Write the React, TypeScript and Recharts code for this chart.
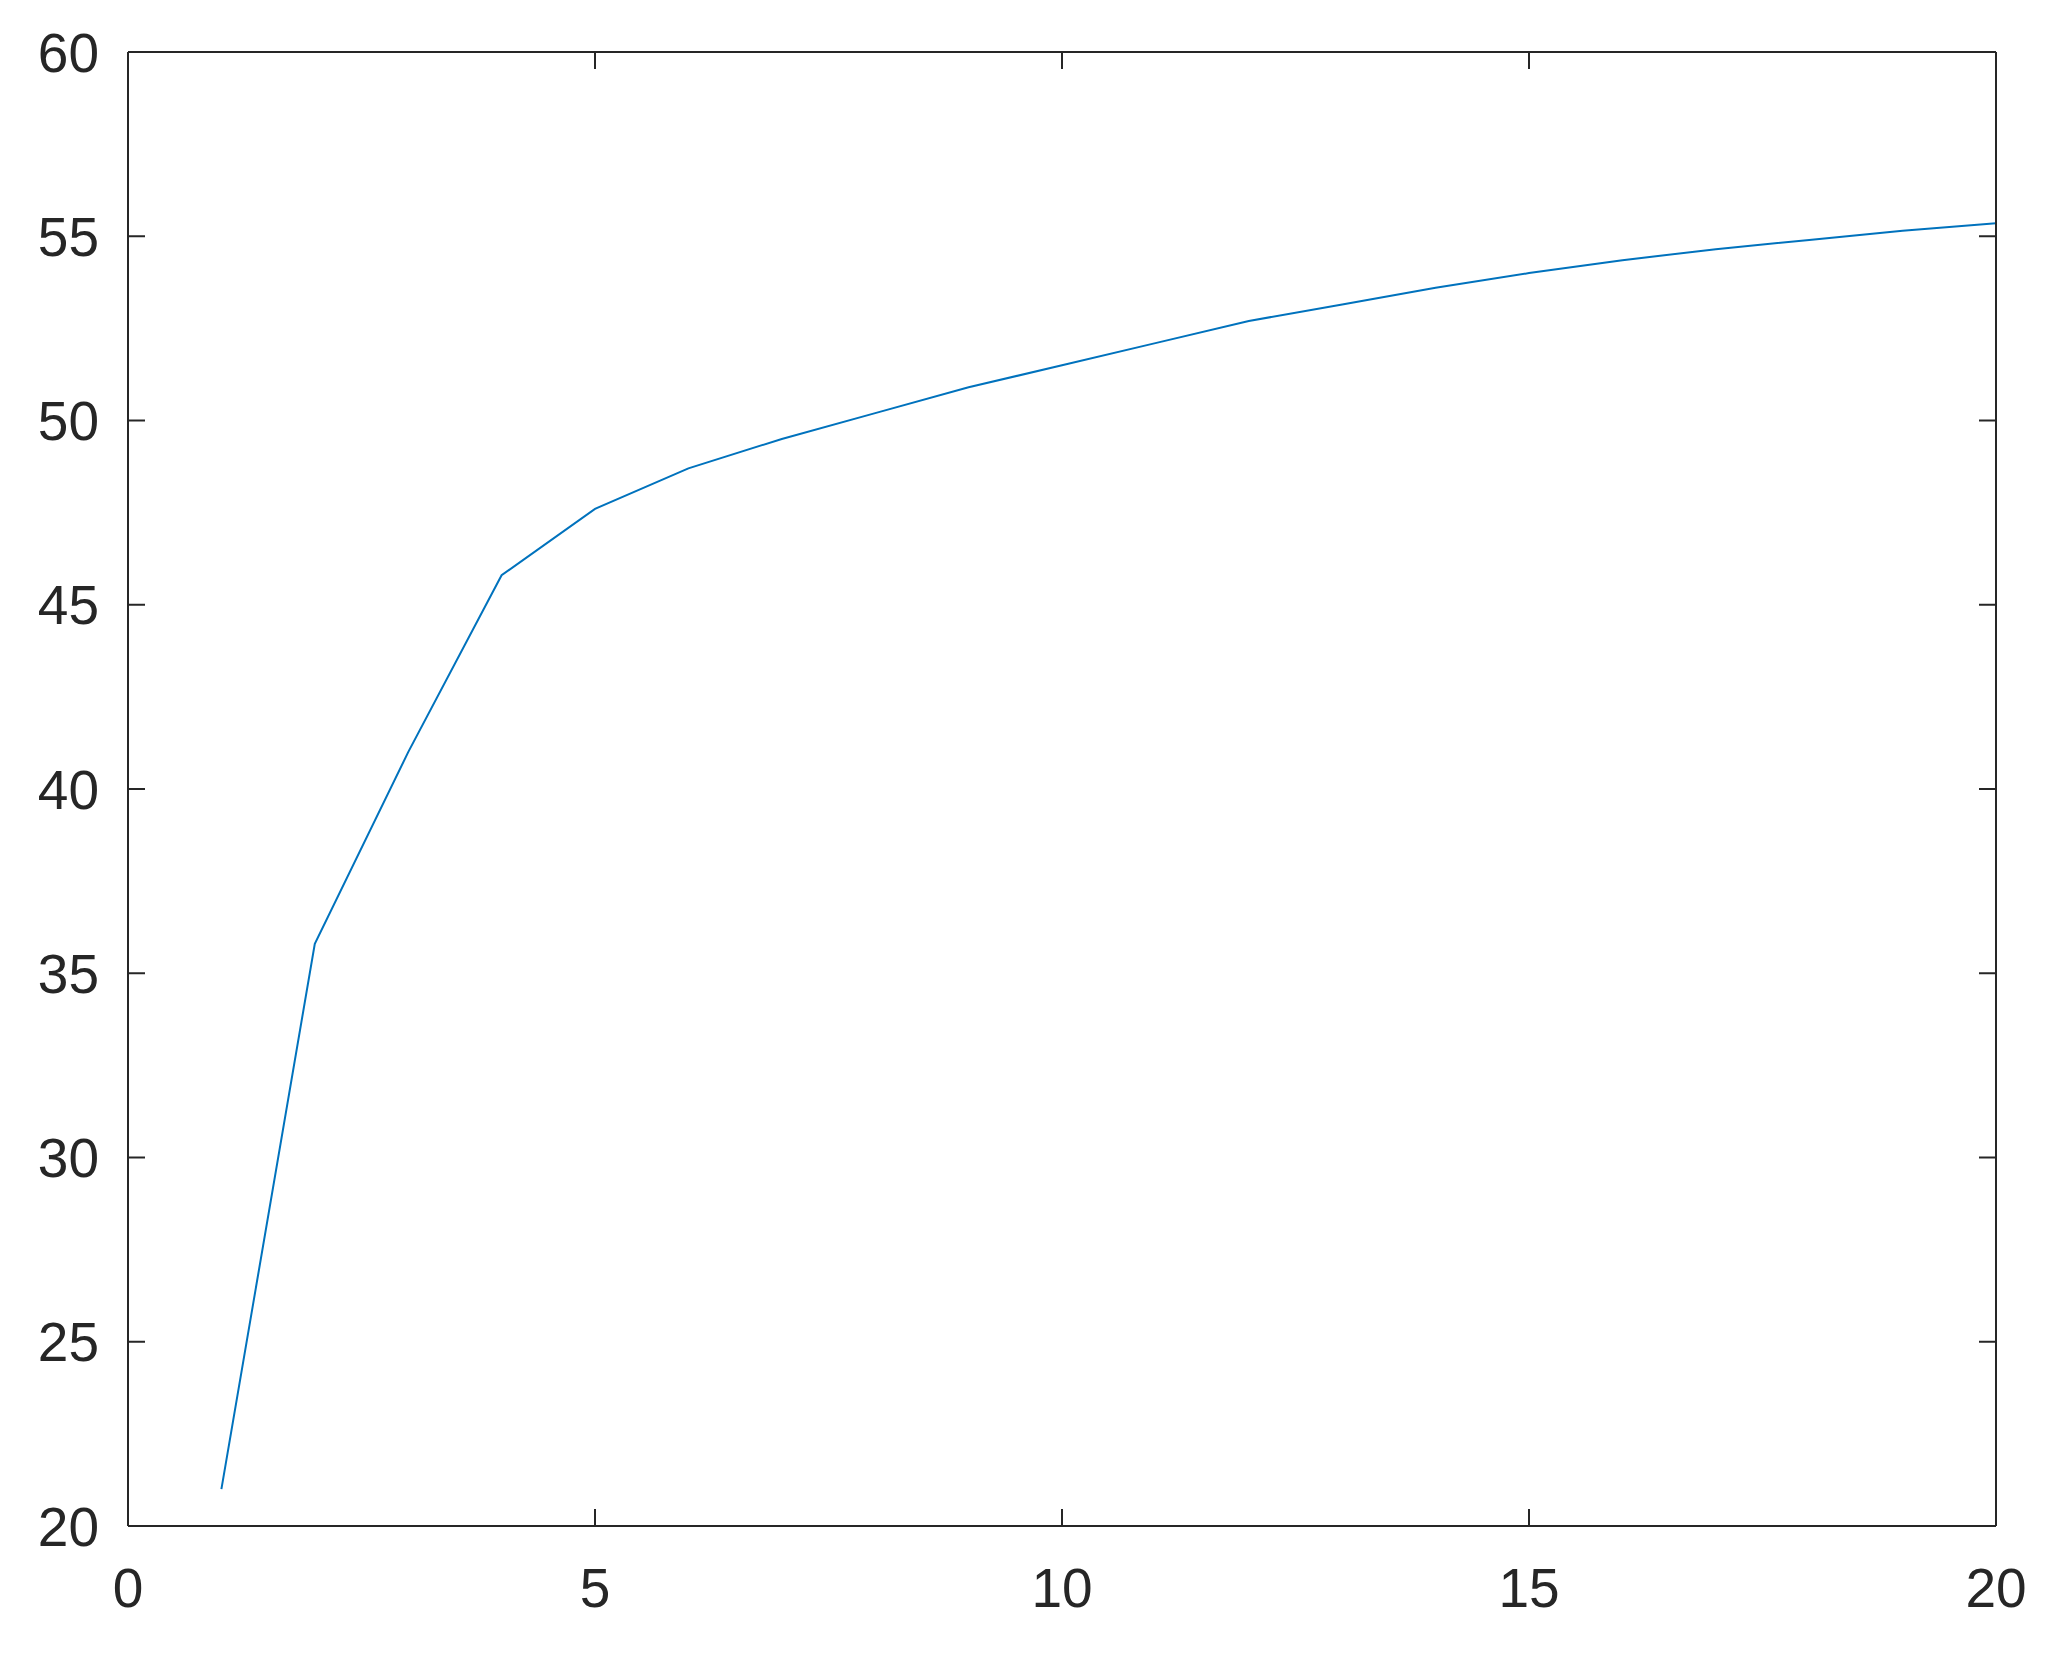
import React from 'react';
import { LineChart, Line, XAxis, YAxis } from 'recharts';

// values
const xValues = [1, 2, 3, 4, 5, 6, 7, 8, 9, 10, 11, 12, 13, 14, 15, 16, 17, 18, 19, 20];
const yValues = [21.0, 35.8, 41.0, 45.8, 47.6, 48.7, 49.5, 50.2, 50.9, 51.5, 52.1, 52.7, 53.15, 53.6, 54.0, 54.35, 54.65, 54.9, 55.15, 55.35];
const xTicks = [0, 5, 10, 15, 20];
const yTicks = [20, 25, 30, 35, 40, 45, 50, 55, 60];

const data = xValues.map((x, i) => ({ x, y: yValues[i] }));

const axisColor = '#262626';
const tickFont = { fontFamily: '"Liberation Sans", Arial, sans-serif', fontSize: 55, fill: axisColor };
const noLabel = () => '';

const App: React.FC = () => {
  return (
    <div style={{ position: 'absolute', left: 0, top: 0, width: 2048, height: 1666, background: '#fff' }}>
      <LineChart width={2048} height={1666} data={data} margin={{ top: 51, right: 51, bottom: 0, left: 0 }}>
        <XAxis
          xAxisId="bottom"
          dataKey="x"
          type="number"
          domain={[0, 20]}
          ticks={xTicks}
          allowDataOverflow
          height={140}
          tickSize={-17}
          tickMargin={59}
          stroke={axisColor}
          strokeWidth={2}
          tick={tickFont}
        />
        {/* mirrored box edges with inward ticks, no labels */}
        <XAxis
          xAxisId="top"
          orientation="top"
          dataKey="x"
          type="number"
          domain={[0, 20]}
          ticks={xTicks}
          allowDataOverflow
          height={1}
          tickSize={-17}
          tickFormatter={noLabel}
          stroke={axisColor}
          strokeWidth={2}
        />
        <YAxis
          yAxisId="left"
          dataKey="y"
          type="number"
          domain={[20, 60]}
          ticks={yTicks}
          allowDataOverflow
          width={128}
          tickSize={-17}
          tickMargin={46}
          stroke={axisColor}
          strokeWidth={2}
          tick={tickFont}
        />
        <YAxis
          yAxisId="right"
          orientation="right"
          dataKey="y"
          type="number"
          domain={[20, 60]}
          ticks={yTicks}
          allowDataOverflow
          width={1}
          tickSize={-17}
          tickFormatter={noLabel}
          stroke={axisColor}
          strokeWidth={2}
        />
        <Line
          xAxisId="bottom"
          yAxisId="left"
          type="linear"
          dataKey="y"
          stroke="#0072BD"
          strokeWidth={2}
          dot={false}
          isAnimationActive={false}
        />
      </LineChart>
    </div>
  );
};

export default App;
